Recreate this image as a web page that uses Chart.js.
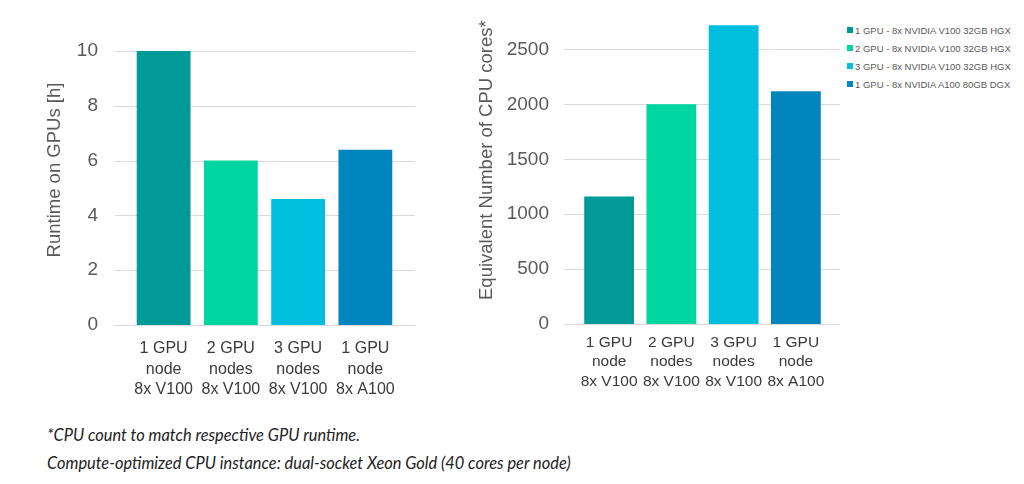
<!DOCTYPE html>
<html>
<head>
<meta charset="utf-8">
<script src="https://cdn.jsdelivr.net/npm/chart.js@4.4.1/dist/chart.umd.min.js"></script>
<style>
  body { margin: 0; background: #fff; width: 1024px; height: 484px; position: relative; overflow: hidden; font-family: "Liberation Sans", Arial, sans-serif; }
  .box { position: absolute; top: 0; height: 420px; }
  #runtimeBox { left: 0; width: 445px; }
  #coresBox { left: 450px; width: 390px; }
  .legend { position: absolute; left: 847px; top: 21px; font-size: 9.5px; color: #595959; }
  .legend .item { height: 18px; display: flex; align-items: center; white-space: nowrap; }
  .legend .sw { width: 6px; height: 6px; margin-right: 2px; display: inline-block; }
  .note { position: absolute; left: 47px; height: 20px; line-height: 20px; font-family: Lato, "Open Sans", sans-serif; font-style: italic; font-size: 16.4px; color: #222; white-space: nowrap; }
</style>
</head>
<body>
<div class="box" id="runtimeBox"><canvas id="runtimeChart"></canvas></div>
<div class="box" id="coresBox"><canvas id="coresChart"></canvas></div>
<div class="legend" id="legend"></div>
<div class="note" style="top:425px">*CPU count to match respective GPU runtime.</div>
<div class="note" style="top:453px">Compute-optimized CPU instance: dual-socket Xeon Gold (40 cores per node)</div>

<script>
// data
const categories = [
  ["1 GPU", "node", "8x V100"],
  ["2 GPU", "nodes", "8x V100"],
  ["3 GPU", "nodes", "8x V100"],
  ["1 GPU", "node", "8x A100"],
];
const legendLabels = [
  "1 GPU - 8x NVIDIA V100 32GB HGX",
  "2 GPU - 8x NVIDIA V100 32GB HGX",
  "3 GPU - 8x NVIDIA V100 32GB HGX",
  "1 GPU - 8x NVIDIA A100 80GB DGX",
];
const runtimeHours = [10, 6.0, 4.6, 6.4];
const cpuCores = [1160, 2000, 2720, 2120];
const runtimeTicks = [0, 2, 4, 6, 8, 10];
const coreTicks = [0, 500, 1000, 1500, 2000, 2500];
const barColors = ["#009a99", "#00d6a1", "#00bedd", "#0086bd"];

const GREY = "#595959";
const FONT = "'Liberation Sans', Arial, sans-serif";
const NB = "\u00a0";

// gridlines in the original run a bit past the bars on both sides
const wideGrid = {
  id: "wideGrid",
  beforeDatasetsDraw(chart, args, opts) {
    const { ctx, chartArea, scales } = chart;
    const y = scales.y;
    ctx.save();
    ctx.strokeStyle = "#d9d9d9";
    ctx.lineWidth = 1;
    y.ticks.forEach((t, i) => {
      const py = Math.round(y.getPixelForTick(i)) + 0.5;
      ctx.beginPath();
      ctx.moveTo(chartArea.left - opts.left, py);
      ctx.lineTo(chartArea.right + opts.right, py);
      ctx.stroke();
    });
    ctx.restore();
  },
};

function makeChart(id, values, tickValues, o) {
  return new Chart(document.getElementById(id), {
    type: "bar",
    data: {
      labels: categories,
      datasets: [{
        data: values,
        backgroundColor: barColors,
        barPercentage: 0.8,
        categoryPercentage: 1,
      }],
    },
    options: {
      responsive: true,
      maintainAspectRatio: false,
      animation: false,
      layout: { padding: { top: o.top, right: o.right, left: 0, bottom: 0 } },
      plugins: {
        legend: { display: false },
        tooltip: { enabled: false },
        wideGrid: { left: o.gridLeft, right: o.gridRight },
      },
      scales: {
        x: {
          grid: { display: false, drawTicks: false },
          border: { display: false },
          ticks: {
            color: "#3a3a3a",
            font: { family: FONT, size: o.xSize, lineHeight: o.xLine },
            padding: o.xPad,
            maxRotation: 0,
            autoSkip: false,
          },
          afterFit: (s) => { s.height = s.chart.height - o.bottom; },
        },
        y: {
          min: 0,
          max: o.max,
          grid: { display: false, drawTicks: false },
          border: { display: false },
          afterBuildTicks: (s) => { s.ticks = tickValues.map((v) => ({ value: v })); },
          ticks: {
            color: GREY,
            padding: o.tickPad,
            font: { family: FONT, size: 19 },
            callback: (v) => String(v),
          },
          title: {
            display: true,
            // leading spaces nudge the centred title up a little, as in the original
            text: NB.repeat(o.nudge) + o.title,
            color: GREY,
            font: { family: FONT, size: 18.5 },
            padding: { top: o.titlePad, bottom: 0 },
          },
          afterFit: (s) => {
            s.width = o.axisWidth;
            // big tick padding would otherwise push the plot top down
            s.paddingTop = 0;
            s.paddingBottom = 0;
          },
        },
      },
    },
    plugins: [wideGrid],
  });
}

makeChart("runtimeChart", runtimeHours, runtimeTicks, {
  max: 10, title: "Runtime on GPUs [h]", nudge: 7,
  top: 51, bottom: 325, right: 46, axisWidth: 130,
  tickPad: 32, titlePad: 44, xPad: 13, xSize: 16, xLine: 1.3,
  gridLeft: 15, gridRight: 16,
});

makeChart("coresChart", cpuCores, coreTicks, {
  max: 2750, title: "Equivalent Number of CPU cores*", nudge: 5,
  top: 22, bottom: 324, right: 13, axisWidth: 128,
  tickPad: 29, titlePad: 26, xPad: 9, xSize: 15.5, xLine: 1.25,
  gridLeft: 14, gridRight: 13,
});

// legend list on the right
const legendEl = document.getElementById("legend");
legendLabels.forEach((txt, i) => {
  const row = document.createElement("div");
  row.className = "item";
  row.innerHTML = `<span class="sw" style="background:${barColors[i]}"></span>${txt}`;
  legendEl.appendChild(row);
});
</script>
</body>
</html>
